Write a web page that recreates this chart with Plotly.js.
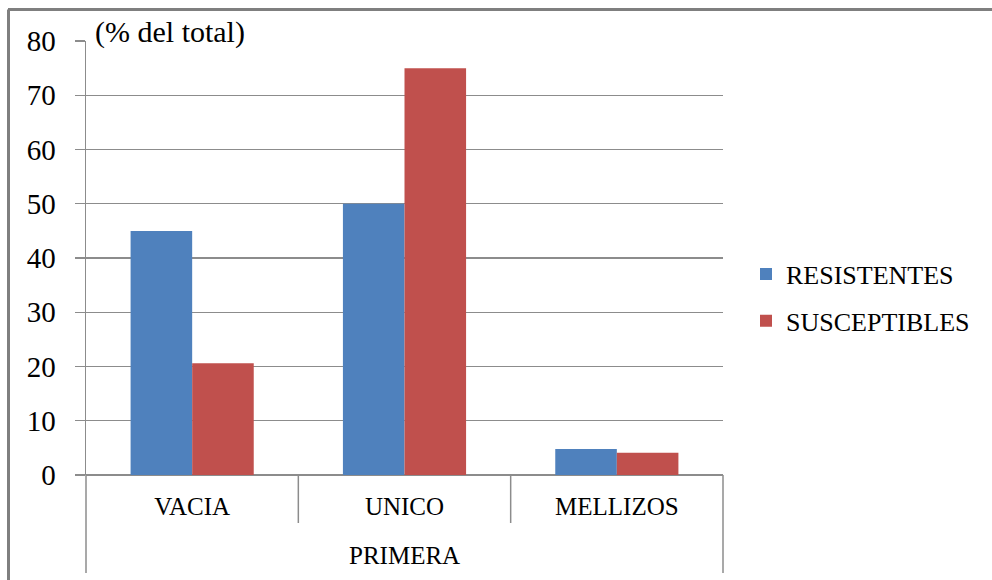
<!DOCTYPE html>
<html>
<head>
<meta charset="utf-8">
<script src="https://cdn.plot.ly/plotly-3.0.1.min.js"></script>
<style>
  html, body { margin: 0; padding: 0; background: #ffffff; }
  #chart { width: 992px; height: 580px; }
</style>
</head>
<body>
<div id="chart"></div>
<script>
// Birth type at first parturition, share of the total per group
const categories = ["VACIA", "UNICO", "MELLIZOS"];
const groupLabel = "PRIMERA";
const resistentes = [45, 50, 4.8];
const susceptibles = [20.6, 75, 4.1];
const seriesNames = ["RESISTENTES", "SUSCEPTIBLES"];
const yTicks = [0, 10, 20, 30, 40, 50, 60, 70, 80];
const unitLabel = "(% del total)";

const W = 992, H = 580;
const M = { l: 86, r: 269, t: 41, b: 105 };
const plotW = W - M.l - M.r;
const plotH = H - M.t - M.b;
const serif = "Liberation Serif";
const grey = "#8c8c8c";

// pixel -> paper helpers for the frame and category dividers
const px = v => (v - M.l) / plotW;
const py = v => (H - M.b - v) / plotH;

const traces = [
  { type: "bar", name: seriesNames[0], x: categories, y: resistentes,
    marker: { color: "#4F81BD", line: { width: 0 } }, legendgroup: "a" },
  { type: "bar", name: seriesNames[1], x: categories, y: susceptibles,
    marker: { color: "#C0504D", line: { width: 0 } }, legendgroup: "b" }
];

const shapes = [];
// category dividers below the axis: inner ones span one label row, outer ones both rows
const n = categories.length;
for (let i = 0; i <= n; i++) {
  const outer = (i === 0 || i === n);
  shapes.push({ type: "line", xref: "paper", yref: "paper",
    x0: i / n, x1: i / n, y0: 0, y1: py(outer ? 573 : 523),
    line: { color: grey, width: 1.5 } });
}
// outer frame (top and left edges)
shapes.push({ type: "line", xref: "paper", yref: "paper",
  x0: px(8), x1: px(992), y0: py(9.5), y1: py(9.5), line: { color: "#7f7f7f", width: 3 } });
shapes.push({ type: "line", xref: "paper", yref: "paper",
  x0: px(8.5), x1: px(8.5), y0: py(9.5), y1: py(580), line: { color: "#7f7f7f", width: 3 } });

const layout = {
  width: W, height: H,
  margin: M,
  paper_bgcolor: "#ffffff", plot_bgcolor: "#ffffff",
  font: { family: serif, color: "#000000", size: 25 },
  barmode: "group", bargap: 0.42, bargroupgap: 0,
  showlegend: true,
  legend: { x: px(746), y: py(297.5), xanchor: "left", yanchor: "middle",
    font: { family: serif, size: 26, color: "#000" },
    tracegroupgap: 10, traceorder: "grouped", itemwidth: 30 },
  xaxis: { type: "category", range: [-0.5, n - 0.5], showgrid: false,
    showline: false, zeroline: false, ticks: "",
    tickfont: { family: serif, size: 25, color: "#000" }, ticklabelstandoff: 14 },
  yaxis: { range: [0, 80], tickvals: yTicks, ticktext: yTicks.map(String),
    showgrid: true, gridcolor: grey, gridwidth: 1.2,
    showline: true, linecolor: grey, linewidth: 1.5, zeroline: true, zerolinecolor: grey, zerolinewidth: 1.5,
    ticks: "outside", ticklen: 10, tickcolor: grey, tickwidth: 1.2,
    tickfont: { family: serif, size: 29, color: "#000" }, ticklabelstandoff: 13 },
  shapes: shapes,
  annotations: [
    { xref: "paper", yref: "paper", x: px(93), y: py(32), xanchor: "left", yanchor: "middle",
      text: unitLabel, showarrow: false, font: { family: serif, size: 30, color: "#000" } },
    { xref: "paper", yref: "paper", x: 0.5, y: py(555), xanchor: "center", yanchor: "middle",
      text: groupLabel, showarrow: false, font: { family: serif, size: 25, color: "#000" } }
  ]
};

Plotly.newPlot("chart", traces, layout, { displayModeBar: false, staticPlot: true });
</script>
</body>
</html>
